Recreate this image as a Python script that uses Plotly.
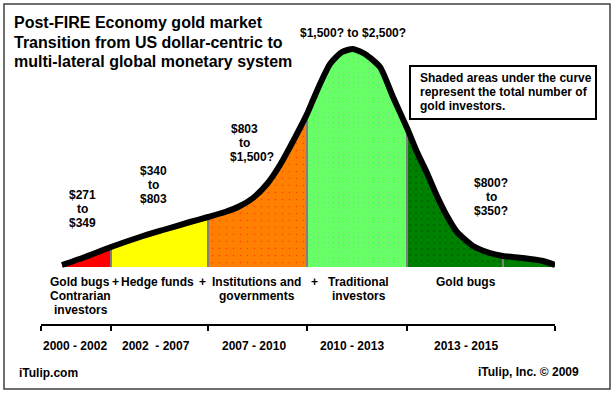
import plotly.graph_objects as go

# ---------------- data ----------------
# position along the transition (chart units) and relative number of gold investors
curve_x = [62, 85, 111, 140, 163, 190, 208, 225, 240, 253, 267, 280, 290, 300, 307,
           313, 320, 330, 342, 353, 365, 380, 393, 407, 417, 427, 437, 447, 457, 473,
           490, 503, 523, 543, 555]
curve_y = [2, 10, 20, 30, 37, 45, 50, 55, 61, 69, 83, 102, 120, 139, 153,
           167, 183, 203, 215, 218, 213, 200, 170, 139, 115, 94, 71, 51, 35, 21,
           14, 11, 9, 6, 2]

# segment boundaries (phase edges) and the phase-axis tick positions
segment_edges = [62, 111, 208, 307, 407, 555]
inner_divider = [503]
axis_ticks = [41, 111, 208, 307, 407, 555]

periods = ["2000 - 2002", "2002  - 2007", "2007 - 2010", "2010 - 2013", "2013 - 2015"]
price_labels = [["$271", "to", "$349"], ["$340", "to", "$803"],
                ["$803", "to", "$1,500?"], ["$1,500? to $2,500?"],
                ["$800?", "to", "$350?"]]
segment_colors = ["#FF0000", "#FFFF00", "#FF8000", "#66FF66", "#008000"]
dot_colors = [None, None, "#FF0000", "#D070D0", "#000000"]
dot_sizes = [None, None, 7, 5, 6]

title_lines = ["Post-FIRE Economy gold market",
               "Transition from US dollar-centric to",
               "multi-lateral global monetary system"]
note_lines = ["Shaded areas under the curve",
              "represent the total number of",
              "gold investors."]

# ---------------- layout helpers ----------------
W, H = 616, 394
L, R, B, T = 41, 61, 70, 0
PW, PH = W - L - R, H - T - B
FONT = "Liberation Sans, Arial, sans-serif"


def px(x):
    return (x - L) / PW


def py(y):
    return (H - B - y) / PH


fig = go.Figure()

# filled segments
for i in range(len(segment_edges) - 1):
    a, b = segment_edges[i], segment_edges[i + 1]
    xs = [x for x in curve_x if a <= x <= b]
    ys = [curve_y[curve_x.index(x)] for x in xs]
    kw = dict(fillcolor=segment_colors[i])
    if dot_colors[i]:
        kw["fillpattern"] = dict(shape=".", bgcolor=segment_colors[i],
                                 fgcolor=dot_colors[i], size=dot_sizes[i],
                                 solidity=0.035)
    fig.add_trace(go.Scatter(x=xs, y=ys, mode="lines", fill="tozeroy",
                             line=dict(width=0, shape="spline", smoothing=0.6),
                             hoverinfo="skip", showlegend=False, **kw))

# gray dividers between segments
for e in segment_edges[1:-1] + inner_divider:
    h = curve_y[curve_x.index(e)]
    fig.add_trace(go.Scatter(x=[e, e], y=[0, h], mode="lines",
                             line=dict(color="#808080", width=2),
                             hoverinfo="skip", showlegend=False))

# the curve itself
fig.add_trace(go.Scatter(x=curve_x, y=curve_y, mode="lines",
                         line=dict(color="black", width=6, shape="spline", smoothing=0.6),
                         hoverinfo="skip", showlegend=False))

annotations = []


def text(s, x, y, size=12, anchor="center"):
    annotations.append(dict(text=s, x=px(x), y=py(y), xref="paper", yref="paper",
                            xanchor=anchor, yanchor="middle", showarrow=False,
                            font=dict(family=FONT, size=size, color="black")))


for i, s in enumerate(title_lines):
    text("<b>%s</b>" % s, 12, 23 + i * 19.5, size=16, anchor="left")

for i, s in enumerate(note_lines):
    text("<b>%s</b>" % s, 418, 78 + i * 14, anchor="left")

price_pos = [(82, 195), (153, 171), (244, 129), (353, 33), (491, 183)]
for lines, (cx, cy) in zip(price_labels, price_pos):
    for j, s in enumerate(lines):
        x = cx
        if s == "$1,500?" and len(lines) == 3:
            x = cx + 8
        text("<b>%s</b>" % s, x, cy + j * 14)

cat = [("Gold bugs", 80, 282), ("Contrarian", 80, 296), ("investors", 81, 310),
       ("+", 115, 282), ("Hedge funds", 157, 282), ("+", 202, 282),
       ("Institutions and", 256, 282), ("governments", 257, 296),
       ("+", 314, 282), ("Traditional", 358, 282), ("investors", 359, 296),
       ("Gold bugs", 466, 282)]
for s, x, y in cat:
    text("<b>%s</b>" % s, x, y)

period_x = [75, 156, 254, 352, 466]
for s, x in zip(periods, period_x):
    text("<b>%s</b>" % s, x, 346)

text("<b>iTulip.com</b>", 17, 373, anchor="left")
text("<b>iTulip, Inc. © 2009</b>", 581, 372, anchor="right")

shapes = [
    dict(type="rect", xref="paper", yref="paper", x0=px(4), x1=px(610), y0=py(4), y1=py(389),
         line=dict(color="#404040", width=1.5), fillcolor="rgba(0,0,0,0)", layer="below"),
    dict(type="rect", xref="paper", yref="paper", x0=px(410), x1=px(596), y0=py(66), y1=py(119),
         line=dict(color="black", width=2), fillcolor="white"),
]

fig.update_layout(
    width=W, height=H, margin=dict(l=L, r=R, t=T, b=B),
    paper_bgcolor="white", plot_bgcolor="white",
    xaxis=dict(range=[L, W - R], showgrid=False, zeroline=False, showline=True,
               linecolor="black", linewidth=2, ticks="outside", ticklen=5,
               tickwidth=2, tickcolor="black", tickvals=axis_ticks,
               ticktext=[""] * len(axis_ticks), fixedrange=True),
    yaxis=dict(range=[-(PH - 267), 267], visible=False, fixedrange=True),
    annotations=annotations, shapes=shapes, showlegend=False,
)

fig.write_html("out.html", config={"displayModeBar": False},
               post_script="document.body.style.margin='0';document.body.style.overflow='hidden';")
